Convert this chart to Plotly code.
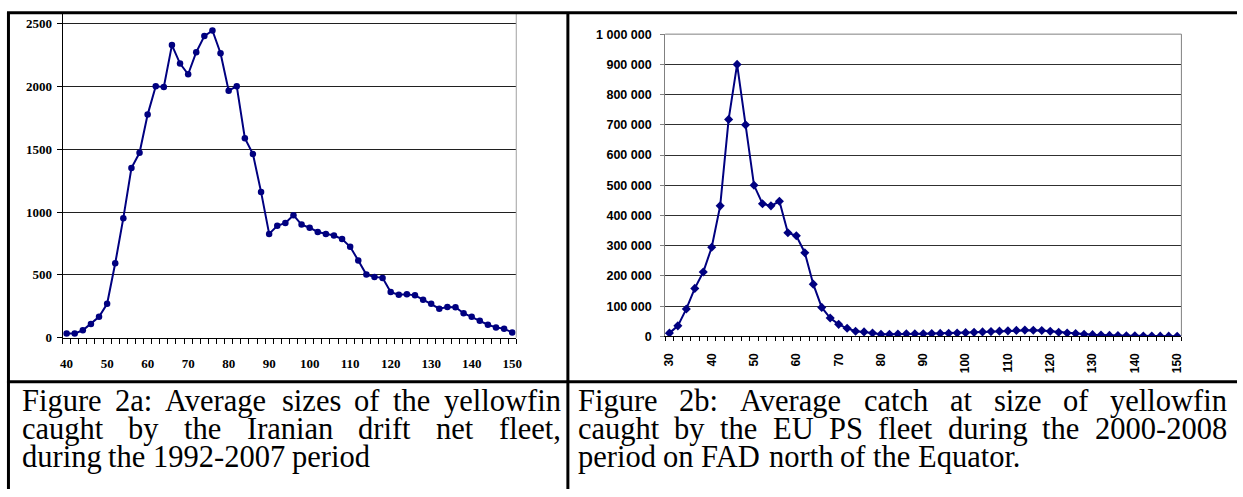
import plotly.graph_objects as go

# ---------------- data ----------------
size_a = list(range(40, 152, 2))
catch_a = [33, 33, 59, 110, 167, 270, 592, 951, 1350, 1471,
           1775, 2000, 1995, 2328, 2181, 2096, 2271, 2400, 2444, 2263,
           1965, 2001, 1587, 1461, 1160, 826, 890, 913, 975, 900,
           875, 841, 826, 813, 785, 723, 615, 502, 484, 476,
           363, 342, 345, 337, 303, 270, 231, 245, 242, 195,
           167, 134, 103, 82, 72, 41]

size_b = list(range(30, 152, 2))
catch_b = [11000, 35000, 91000, 159000, 213000, 295000, 432000, 718000, 900000, 700000,
           500000, 439000, 432000, 447000, 343000, 333000, 277000, 173000, 96000, 61000,
           40000, 27000, 17000, 15000, 11000, 7000, 7000, 8000, 8500, 9000,
           9000, 9500, 10000, 10500, 11500, 12500, 13500, 15000, 16000, 17500,
           18500, 20000, 21000, 20500, 19500, 17000, 14000, 11500, 9500, 7500,
           6000, 5000, 3500, 3000, 2500, 2000, 1500, 1500, 1000, 1000, 800]

ticks_a = [40, 50, 60, 70, 80, 90, 100, 110, 120, 130, 140, 150]
ticks_b = [30, 40, 50, 60, 70, 80, 90, 100, 110, 120, 130, 140, 150]
yticks_b = [0, 100000, 200000, 300000, 400000, 500000, 600000, 700000, 800000, 900000, 1000000]
yticklabels_b = ["0", "100 000", "200 000", "300 000", "400 000", "500 000",
                 "600 000", "700 000", "800 000", "900 000", "1 000 000"]

caption_a = ["Figure 2a: Average sizes of the yellowfin",
             "caught by the Iranian drift net fleet,",
             "during the 1992-2007 period"]
caption_b = ["Figure 2b: Average catch at size of yellowfin",
             "caught by the EU PS fleet during the 2000-2008",
             "period on FAD north of the Equator."]

# ---------------- layout geometry (pixels) ----------------
W, H = 1243, 497
NAVY = "#000080"

def px(x):
    return x / W

def py(y):
    return 1 - y / H

A_L, A_R, A_T, A_B = 60, 517, 7, 341
B_L, B_R, B_T, B_B = 667, 1187, 28, 339.7
ya_max = 2500 * (A_B - A_T) / (A_B - 17)

fig = go.Figure()
fig.add_trace(go.Scatter(
    x=size_a, y=catch_a, mode="lines+markers", xaxis="x", yaxis="y",
    line=dict(color=NAVY, width=2),
    marker=dict(symbol="circle", size=6.5, color=NAVY),
    showlegend=False))
fig.add_trace(go.Scatter(
    x=size_b, y=catch_b, mode="lines+markers", xaxis="x2", yaxis="y2",
    line=dict(color=NAVY, width=2),
    marker=dict(symbol="diamond", size=7, color=NAVY),
    showlegend=False))

narrow = "Liberation Sans Narrow"
sans = "Liberation Sans"

fig.update_layout(
    width=W, height=H, margin=dict(l=0, r=0, t=0, b=0),
    paper_bgcolor="white", plot_bgcolor="white",
    xaxis=dict(domain=[px(A_L), px(A_R)], range=[39, 151], anchor="y",
               tickmode="array", tickvals=ticks_a, ticks="",
               showline=True, linecolor="black", linewidth=1,
               showgrid=False, zeroline=False, ticklabelstandoff=14,
               tickfont=dict(family=narrow, size=13, color="black", weight="bold"),
               minor=dict(tick0=39, dtick=2, ticks="outside", ticklen=5,
                          tickcolor="black", tickwidth=1, showgrid=False)),
    yaxis=dict(domain=[py(A_B), py(A_T)], range=[0, ya_max], anchor="x",
               tickmode="array", tickvals=[0, 500, 1000, 1500, 2000, 2500],
               ticks="outside", ticklen=5, tickcolor="black",
               showline=True, linecolor="black", linewidth=1,
               showgrid=True, gridcolor="#202020", gridwidth=1, zeroline=False,
               ticklabelstandoff=2,
               tickfont=dict(family=narrow, size=13, color="black", weight="bold")),
    xaxis2=dict(domain=[px(B_L), px(B_R)], range=[29, 151], anchor="y2",
                tickmode="array", tickvals=ticks_b, ticks="", tickangle=-90,
                showline=True, linecolor="black", linewidth=1,
                showgrid=False, zeroline=False, ticklabelstandoff=11,
                tickfont=dict(family=sans, size=12, color="black", weight="bold"),
                minor=dict(tick0=29, dtick=2, ticks="outside", ticklen=4,
                           tickcolor="black", tickwidth=1, showgrid=False)),
    yaxis2=dict(domain=[py(B_B), py(B_T)], range=[0, 1000000], anchor="x2",
                tickmode="array", tickvals=yticks_b, ticktext=yticklabels_b,
                ticks="outside", ticklen=4, tickcolor="#808080",
                showline=True, linecolor="#808080", linewidth=1,
                showgrid=True, gridcolor="#303030", gridwidth=1, zeroline=False,
                ticklabelstandoff=6,
                tickfont=dict(family=sans, size=12.5, color="black", weight="bold")),
)

# plot-area borders
P = dict(xref="paper", yref="paper", type="line")
shapes = [
    dict(P, x0=px(A_R), x1=px(A_R), y0=py(A_B), y1=py(A_T),
         line=dict(color="#a0a0a0", width=1)),
    dict(P, x0=px(B_R), x1=px(B_R), y0=py(B_B), y1=py(B_T),
         line=dict(color="#808080", width=1)),
    dict(P, x0=px(B_L), x1=px(B_R), y0=py(B_T), y1=py(B_T),
         line=dict(color="#808080", width=1)),
]
# table borders
TB = dict(color="black", width=3)
shapes += [
    dict(P, x0=px(4), x1=1, y0=py(6), y1=py(6), line=TB),
    dict(P, x0=px(5.5), x1=px(5.5), y0=py(6), y1=0, line=TB),
    dict(P, x0=px(569), x1=px(569), y0=py(6), y1=0, line=TB),
    dict(P, x0=px(4), x1=1, y0=py(386.5), y1=py(386.5), line=TB),
]
fig.update_layout(shapes=shapes)

# ---------------- justified captions ----------------
TIMES = {' ': 250, 'A': 722, 'D': 722, 'E': 611, 'F': 556, 'I': 333, 'P': 556,
         'Q': 722, 'S': 556, 'U': 722, 'a': 444, 'b': 500, 'c': 444, 'd': 500,
         'e': 444, 'f': 333, 'g': 500, 'h': 500, 'i': 278, 'l': 278, 'm': 778,
         'n': 500, 'o': 500, 'p': 500, 'q': 500, 'r': 333, 's': 389, 't': 278,
         'u': 500, 'v': 500, 'w': 722, 'y': 500, 'z': 444, ':': 278, '-': 333,
         ',': 250, '.': 250}
for d in "0123456789":
    TIMES[d] = 500

FS = 30.5
serif = "Liberation Serif"

def width(word):
    return sum(TIMES.get(c, 500) for c in word) * FS / 1000.0

def add_caption(lines, x0, x1, centers):
    for i, (line, yc) in enumerate(zip(lines, centers)):
        words = line.split(" ")
        wsum = sum(width(w) for w in words)
        last = i == len(lines) - 1
        gap = width(" ") if last else (x1 - x0 - wsum) / (len(words) - 1)
        x = x0
        for w in words:
            fig.add_annotation(text=w, x=px(x), y=py(yc), xref="paper", yref="paper",
                               xanchor="left", yanchor="middle", showarrow=False,
                               borderpad=0, borderwidth=0,
                               font=dict(family=serif, size=FS, color="black"))
            x += width(w) + gap

centers = [406, 435.3, 464.5]
add_caption(caption_a, 19, 561, centers)
add_caption(caption_b, 579, 1232, centers)

fig.write_html("out.html")
